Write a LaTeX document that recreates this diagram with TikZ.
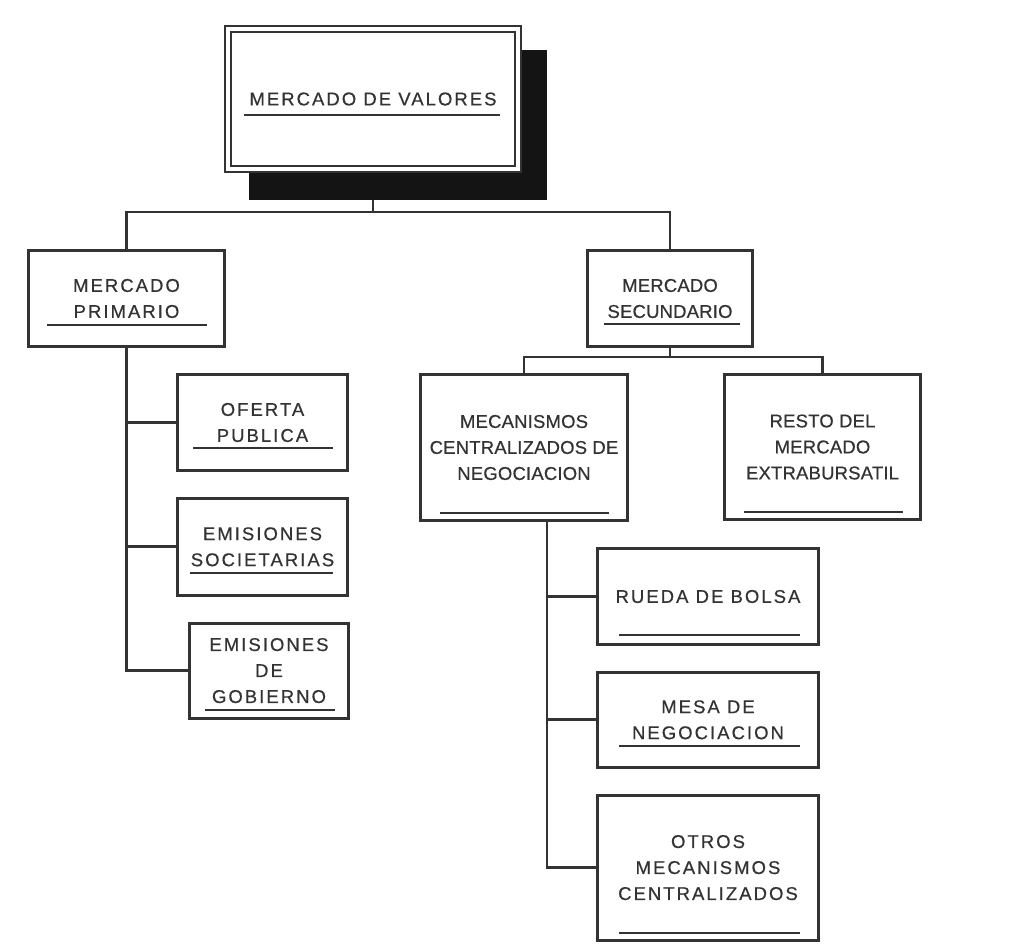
\documentclass[tikz,border=0pt]{standalone}
\usepackage{fontspec}
\usepackage{xcolor}
\usepackage{tikz}
\usetikzlibrary{positioning}
\newfontfamily\boxfont{Liberation Sans}[LetterSpace=11, FakeBold=0.5]
\newfontfamily\tightfont{Liberation Sans}[LetterSpace=1, FakeBold=0.5]
\definecolor{ink}{HTML}{333333}
\definecolor{shade}{HTML}{141414}
\tikzset{
  box/.style={rectangle, draw=ink, line width=2.8pt, fill=white, text=ink, align=center, inner sep=2pt, font=\boxfont\fontsize{18.5}{26}\selectfont},
  tightbox/.style={box, font=\tightfont\fontsize{18.5}{26}\selectfont},
  topbox/.style={box, line width=2.2pt, double=white, double distance=3.5pt},
  shadowbox/.style={rectangle, fill=shade, draw=none, inner sep=0pt, outer sep=0pt},
  link/.style={draw=ink, line width=2.8pt},
  uline/.style={draw=ink, line width=2pt},
}

\begin{document}
\begin{tikzpicture}[x=1pt, y=-1pt]
  \useasboundingbox (0,0) rectangle (1019,943);
  % top of the tree
  \node[shadowbox, minimum width=298pt, minimum height=150pt] (topshade) at (398,125) {};
  \node[topbox, minimum width=290pt, minimum height=140pt] (top) at (373,99) {MERCADO DE VALORES};
  \node[box, minimum width=196pt, minimum height=96pt] (prim) at (126.5,298.5) {MERCADO\\PRIMARIO};
  \node[tightbox, minimum width=165pt, minimum height=96pt] (sec) at (670,298.5) {MERCADO\\SECUNDARIO};
  % primary market
  \node[box, minimum width=170pt, minimum height=96pt] (ofer) at (262.5,422.5) {OFERTA\\PUBLICA};
  \node[box, minimum width=170pt, minimum height=97pt, below=25pt of ofer] (soc) {EMISIONES\\SOCIETARIAS};
  \node[box, minimum width=159pt, minimum height=95pt, below=25pt of soc, xshift=6.5pt] (gob) {EMISIONES\\DE\\GOBIERNO};
  % secondary market
  \node[tightbox, minimum width=207pt, minimum height=146pt] (mec) at (524,447.5) {MECANISMOS\\CENTRALIZADOS DE\\NEGOCIACION};
  \node[tightbox, minimum width=196pt, minimum height=145pt] (resto) at (822.5,447) {RESTO DEL\\MERCADO\\EXTRABURSATIL};
  \node[box, minimum width=221pt, minimum height=96pt] (rueda) at (708,596.5) {RUEDA DE BOLSA};
  \node[box, minimum width=221pt, minimum height=95pt, below=25pt of rueda] (mesa) {MESA DE\\NEGOCIACION};
  \node[box, minimum width=221pt, minimum height=145pt, below=25pt of mesa] (otros) {OTROS\\MECANISMOS\\CENTRALIZADOS};

  % underlines
  \draw[uline] (244,115) -- (500,115);
  \draw[uline] (47,325) -- (207,325);
  \draw[uline] (604,324) -- (740,324);
  \draw[uline] (193,448) -- (333,448);
  \draw[uline] (190,573) -- (333,573);
  \draw[uline] (205,710) -- (335,710);
  \draw[uline] (440,513) -- (609,513);
  \draw[uline] (744,512) -- (903,512);
  \draw[uline] (619,635) -- (800,635);
  \draw[uline] (619,746) -- (800,746);
  \draw[uline] (619,933) -- (800,933);

  % connectors
  \coordinate (topfork) at (373,212);
  \coordinate (secfork) at (670,357);
  \coordinate (mectrunk) at (547,522);
  \draw[link] (topshade.south -| top.south) -- (topfork);
  \draw[link] (prim.north) |- (topfork) -| (sec.north);
  \draw[link] (prim.south) |- (gob.west);
  \draw[link] (prim.south |- ofer.west) -- (ofer.west);
  \draw[link] (prim.south |- soc.west) -- (soc.west);
  \draw[link] (sec.south) -- (secfork);
  \draw[link] (mec.north) |- (secfork) -| (resto.north);
  \draw[link] (mectrunk) |- (otros.west);
  \draw[link] (mectrunk |- rueda.west) -- (rueda.west);
  \draw[link] (mectrunk |- mesa.west) -- (mesa.west);
\end{tikzpicture}
\end{document}
